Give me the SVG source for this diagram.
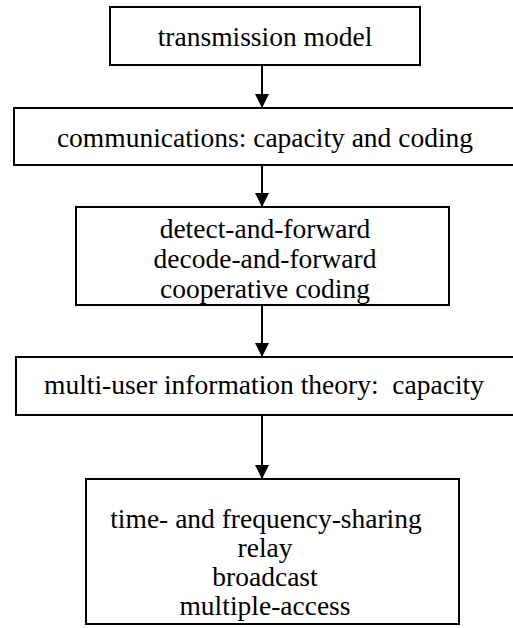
<svg xmlns="http://www.w3.org/2000/svg" width="513" height="628" viewBox="0 0 513 628">
<style>
.box{fill:#fff;stroke:#000;stroke-width:2}
.t{font-size:27.5px;fill:#000;text-anchor:middle}
.c{stroke:#000;stroke-width:2;fill:none}
</style>
<defs>
<marker id="ah" markerUnits="userSpaceOnUse" markerWidth="14" markerHeight="14" refX="14" refY="7" orient="auto" viewBox="0 0 14 14">
<path d="M0,0 L14,7 L0,14 Z" fill="#000"/>
</marker>
</defs>
<g id="connectors">
<line class="c" x1="262" y1="65" x2="262" y2="108" marker-end="url(#ah)"/>
<line class="c" x1="262" y1="165" x2="262" y2="207" marker-end="url(#ah)"/>
<line class="c" x1="262" y1="305" x2="262" y2="357" marker-end="url(#ah)"/>
<line class="c" x1="262" y1="415" x2="262" y2="479" marker-end="url(#ah)"/>
</g>
<g font-family="Liberation Serif, serif">
<g id="n1">
<rect class="box" x="110" y="7" width="310" height="58"/>
<text class="t" x="265" y="46">transmission model</text>
</g>
<g id="n2">
<rect class="box" x="14" y="108" width="502" height="57"/>
<text class="t" x="265" y="147">communications: capacity and coding</text>
</g>
<g id="n3">
<rect class="box" x="76" y="207" width="373" height="98"/>
<text class="t" x="265" y="238">detect-and-forward</text>
<text class="t" x="265" y="268">decode-and-forward</text>
<text class="t" x="265" y="298">cooperative coding</text>
</g>
<g id="n4">
<rect class="box" x="16" y="357" width="500" height="58"/>
<text class="t" x="264" y="394" xml:space="preserve">multi-user information theory:  capacity</text>
</g>
<g id="n5">
<rect class="box" x="86" y="479" width="373" height="145"/>
<text class="t" x="266" y="528">time- and frequency-sharing</text>
<text class="t" x="265" y="557">relay</text>
<text class="t" x="265" y="586">broadcast</text>
<text class="t" x="265" y="615">multiple-access</text>
</g>
</g>
</svg>
